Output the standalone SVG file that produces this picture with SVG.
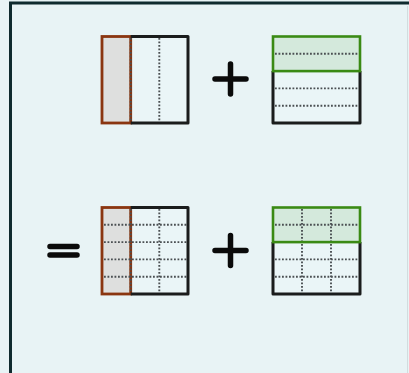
<svg xmlns="http://www.w3.org/2000/svg" width="409" height="373" viewBox="0 0 409 373">
<style>
.bg{fill:#e8f3f5}
.frame{fill:none;stroke:#0f2a2e;stroke-width:3}
.sq{fill:none;stroke:#1a1c1c;stroke-width:3;stroke-linejoin:round}
.dot{fill:none;stroke:#4a4f52;stroke-width:1.9;stroke-dasharray:1.8 1.7}
.brown{fill:#dedfde;stroke:#8a3510;stroke-width:2.8}
.green{fill:none;stroke:#3a8a14;stroke-width:2.6}
.sign{fill:none;stroke:#0a0a0a;stroke-width:5.5;stroke-linecap:round}
</style>
<rect class="bg" x="0" y="0" width="409" height="373"/>
<g id="frame">
<rect class="frame" x="10.5" y="3" width="440" height="420"/>
<line x1="407.5" y1="6" x2="407.5" y2="373" stroke="#d2dcde" stroke-width="1"/>
</g>
<g id="fig-a">
<rect x="102" y="36.5" width="86" height="86.5" fill="#eaf5f7"/>
<rect class="brown" x="102" y="36.5" width="28.7" height="86.5"/>
<line class="dot" x1="159.3" y1="38" x2="159.3" y2="122"/>
<line class="dot" x1="130.7" y1="38" x2="130.7" y2="122"/>
<path class="sq" d="M130.7 36.5H188V123H130.7"/>
</g>
<g id="plus-1">
<path class="sign" d="M215 79H246M230.5 64V94"/>
</g>
<g id="fig-b">
<rect x="273" y="36.5" width="87" height="86.5" fill="#eaf5f7"/>
<rect x="273" y="36.5" width="87" height="34.6" fill="#d4e9dc"/>
<line class="dot" x1="275" y1="53.8" x2="359" y2="53.8"/>
<line class="dot" x1="275" y1="71.1" x2="359" y2="71.1"/>
<line class="dot" x1="275" y1="88.4" x2="359" y2="88.4"/>
<line class="dot" x1="275" y1="105.7" x2="359" y2="105.7"/>
<path class="sq" d="M273 71.1V123H360V71.1"/>
<rect class="green" x="273" y="36.5" width="87" height="34.6"/>
</g>
<g id="equals">
<path class="sign" d="M50 246.5H77M50 255H77" stroke-width="5"/>
</g>
<g id="fig-c">
<rect x="102" y="207.5" width="86" height="86.5" fill="#eaf5f7"/>
<rect class="brown" x="102" y="207.5" width="28.7" height="86.5"/>
<line class="dot" x1="104" y1="224.8" x2="187" y2="224.8"/>
<line class="dot" x1="104" y1="242.1" x2="187" y2="242.1"/>
<line class="dot" x1="104" y1="259.4" x2="187" y2="259.4"/>
<line class="dot" x1="104" y1="276.7" x2="187" y2="276.7"/>
<line class="dot" x1="159.3" y1="209" x2="159.3" y2="293"/>
<line class="dot" x1="130.7" y1="209" x2="130.7" y2="293"/>
<path class="sq" d="M130.7 207.5H188V294H130.7"/>
</g>
<g id="plus-2">
<path class="sign" d="M215 250.5H246M230.5 235.5V265.5"/>
</g>
<g id="fig-d">
<rect x="273" y="207.5" width="87" height="86.5" fill="#eaf5f7"/>
<rect x="273" y="207.5" width="87" height="34.6" fill="#d4e9dc"/>
<line class="dot" x1="275" y1="224.8" x2="359" y2="224.8"/>
<line class="dot" x1="275" y1="242.1" x2="359" y2="242.1"/>
<line class="dot" x1="275" y1="259.4" x2="359" y2="259.4"/>
<line class="dot" x1="275" y1="276.7" x2="359" y2="276.7"/>
<line class="dot" x1="302" y1="209" x2="302" y2="293"/>
<line class="dot" x1="331" y1="209" x2="331" y2="293"/>
<path class="sq" d="M273 242.1V294H360V242.1"/>
<rect class="green" x="273" y="207.5" width="87" height="34.6"/>
</g>
</svg>
